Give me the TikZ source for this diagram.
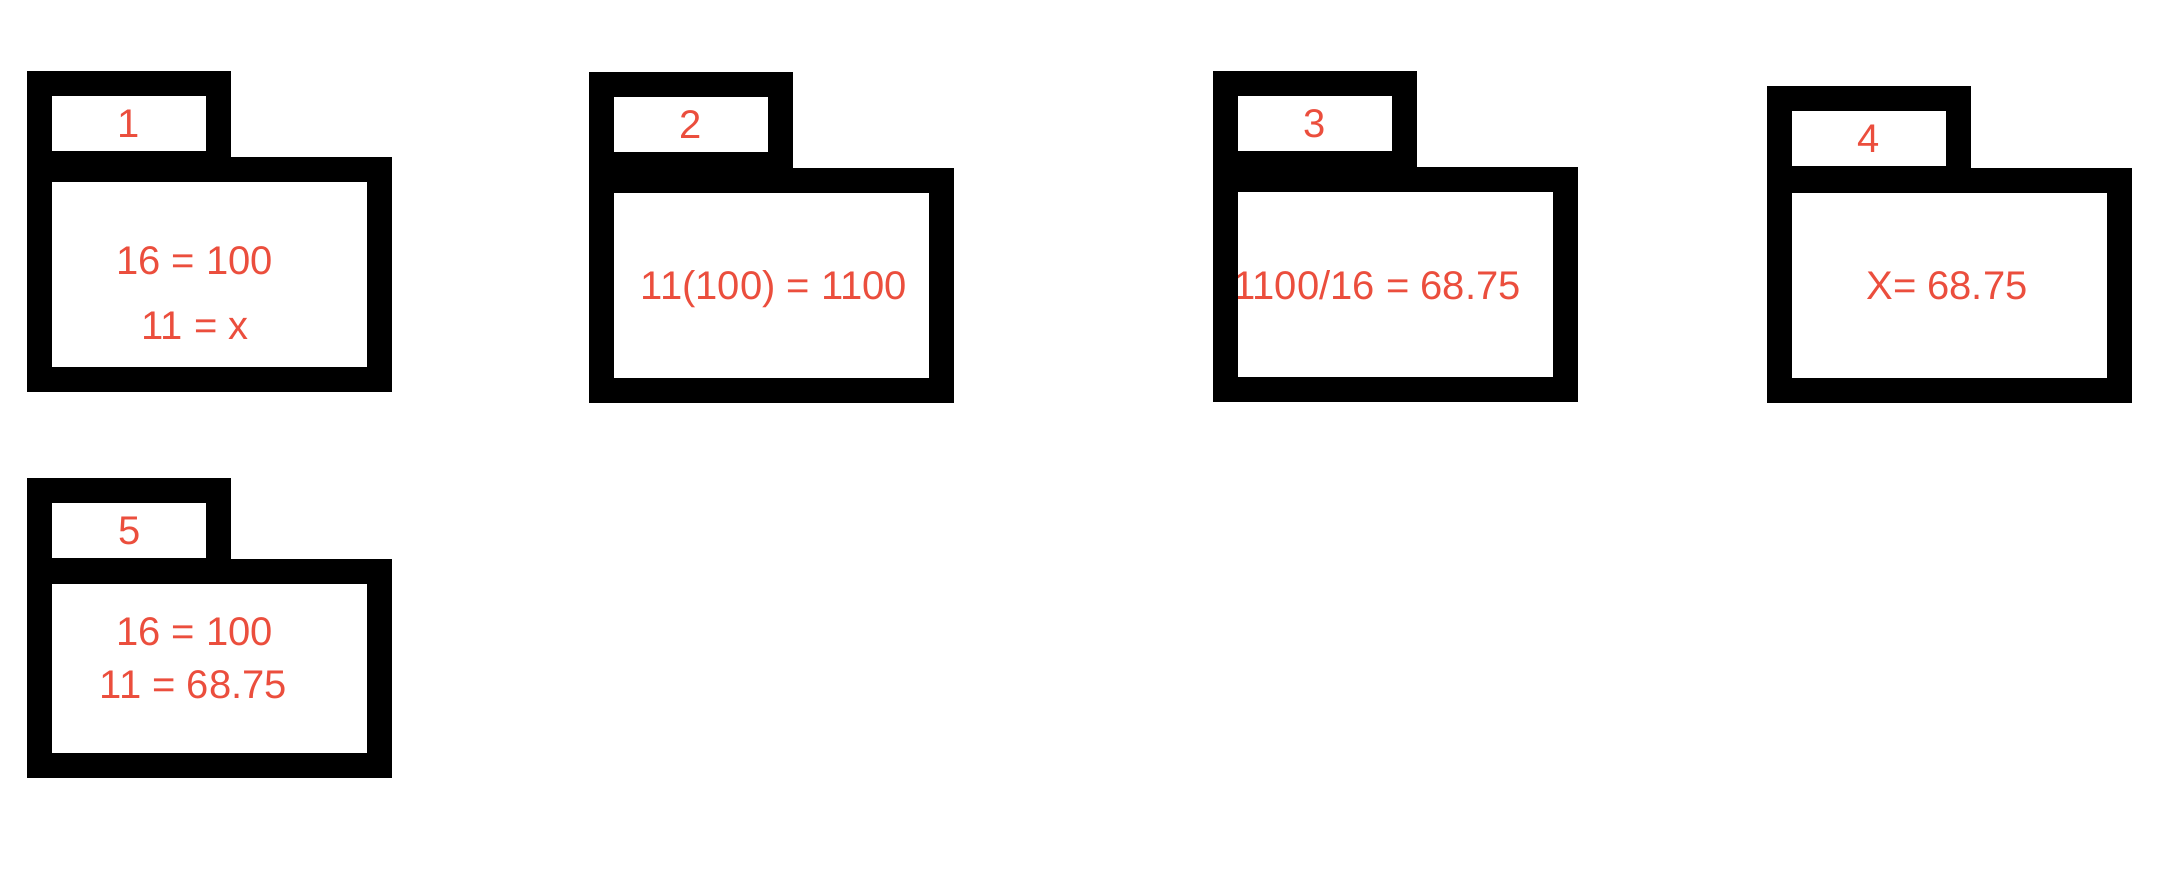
\documentclass[tikz,border=0pt]{standalone}
\usepackage{fontspec}
\usepackage{xcolor}
\usepackage{tikz}
\usetikzlibrary{positioning}
\setmainfont{Liberation Sans}
\definecolor{notered}{RGB}{235, 78, 61}
\tikzset{
 bodybox/.style={
 rectangle,
 draw=black,
 line width=12.5pt,
 outer sep=0pt,
 minimum width=170pt,
 minimum height=105pt
 },
 tabbox/.style={
 rectangle,
 draw=black,
 line width=12.5pt,
 outer sep=0pt,
 inner sep=0pt,
 minimum width=89.5pt,
 minimum height=40pt,
 text=notered,
 font=\fontsize{20pt}{24pt}\selectfont
 },
 note/.style={
 anchor=base,
 inner sep=0pt,
 text=notered,
 font=\fontsize{20pt}{24pt}\selectfont
 }
}

\begin{document}
\begin{tikzpicture}[x=0.5pt, y=-0.5pt]
 \useasboundingbox (0,0) rectangle (2184,872);

 \node[note] (eq1a) at (194.5,274) {16 = 100};
 \node[note] (eq1b) at (195,339) {11 = x};
 \node[note] (eq2) at (774,299) {11(100) = 1100};
 \node[note] (eq3) at (1377,299) {1100/16 = 68.75};
 \node[note] (eq4) at (1947,299) {X= 68.75};
 \node[note] (eq5a) at (194.5,645) {16 = 100};
 \node[note] (eq5b) at (193.5,698) {11 = 68.75};

 \node[bodybox] (body1) at (209.25,274.5) {};
 \node[bodybox] (body2) at (771.5,285.5) {};
 \node[bodybox] (body3) at (1395.5,284.5) {};
 \node[bodybox] (body4) at (1949,285.25) {};
 \node[bodybox, minimum height=97pt] (body5) at (209.75,668.5) {};

 \node[tabbox, above=3pt of body1.north west, anchor=south west] (tab1) {1};
 \node[tabbox, above=8pt of body2.north west, anchor=south west] (tab2) {2};
 \node[tabbox, above=8pt of body3.north west, anchor=south west] (tab3) {3};
 \node[tabbox, above=1pt of body4.north west, anchor=south west] (tab4) {4};
 \node[tabbox, above=0.5pt of body5.north west, anchor=south west] (tab5) {5};
\end{tikzpicture}
\end{document}
